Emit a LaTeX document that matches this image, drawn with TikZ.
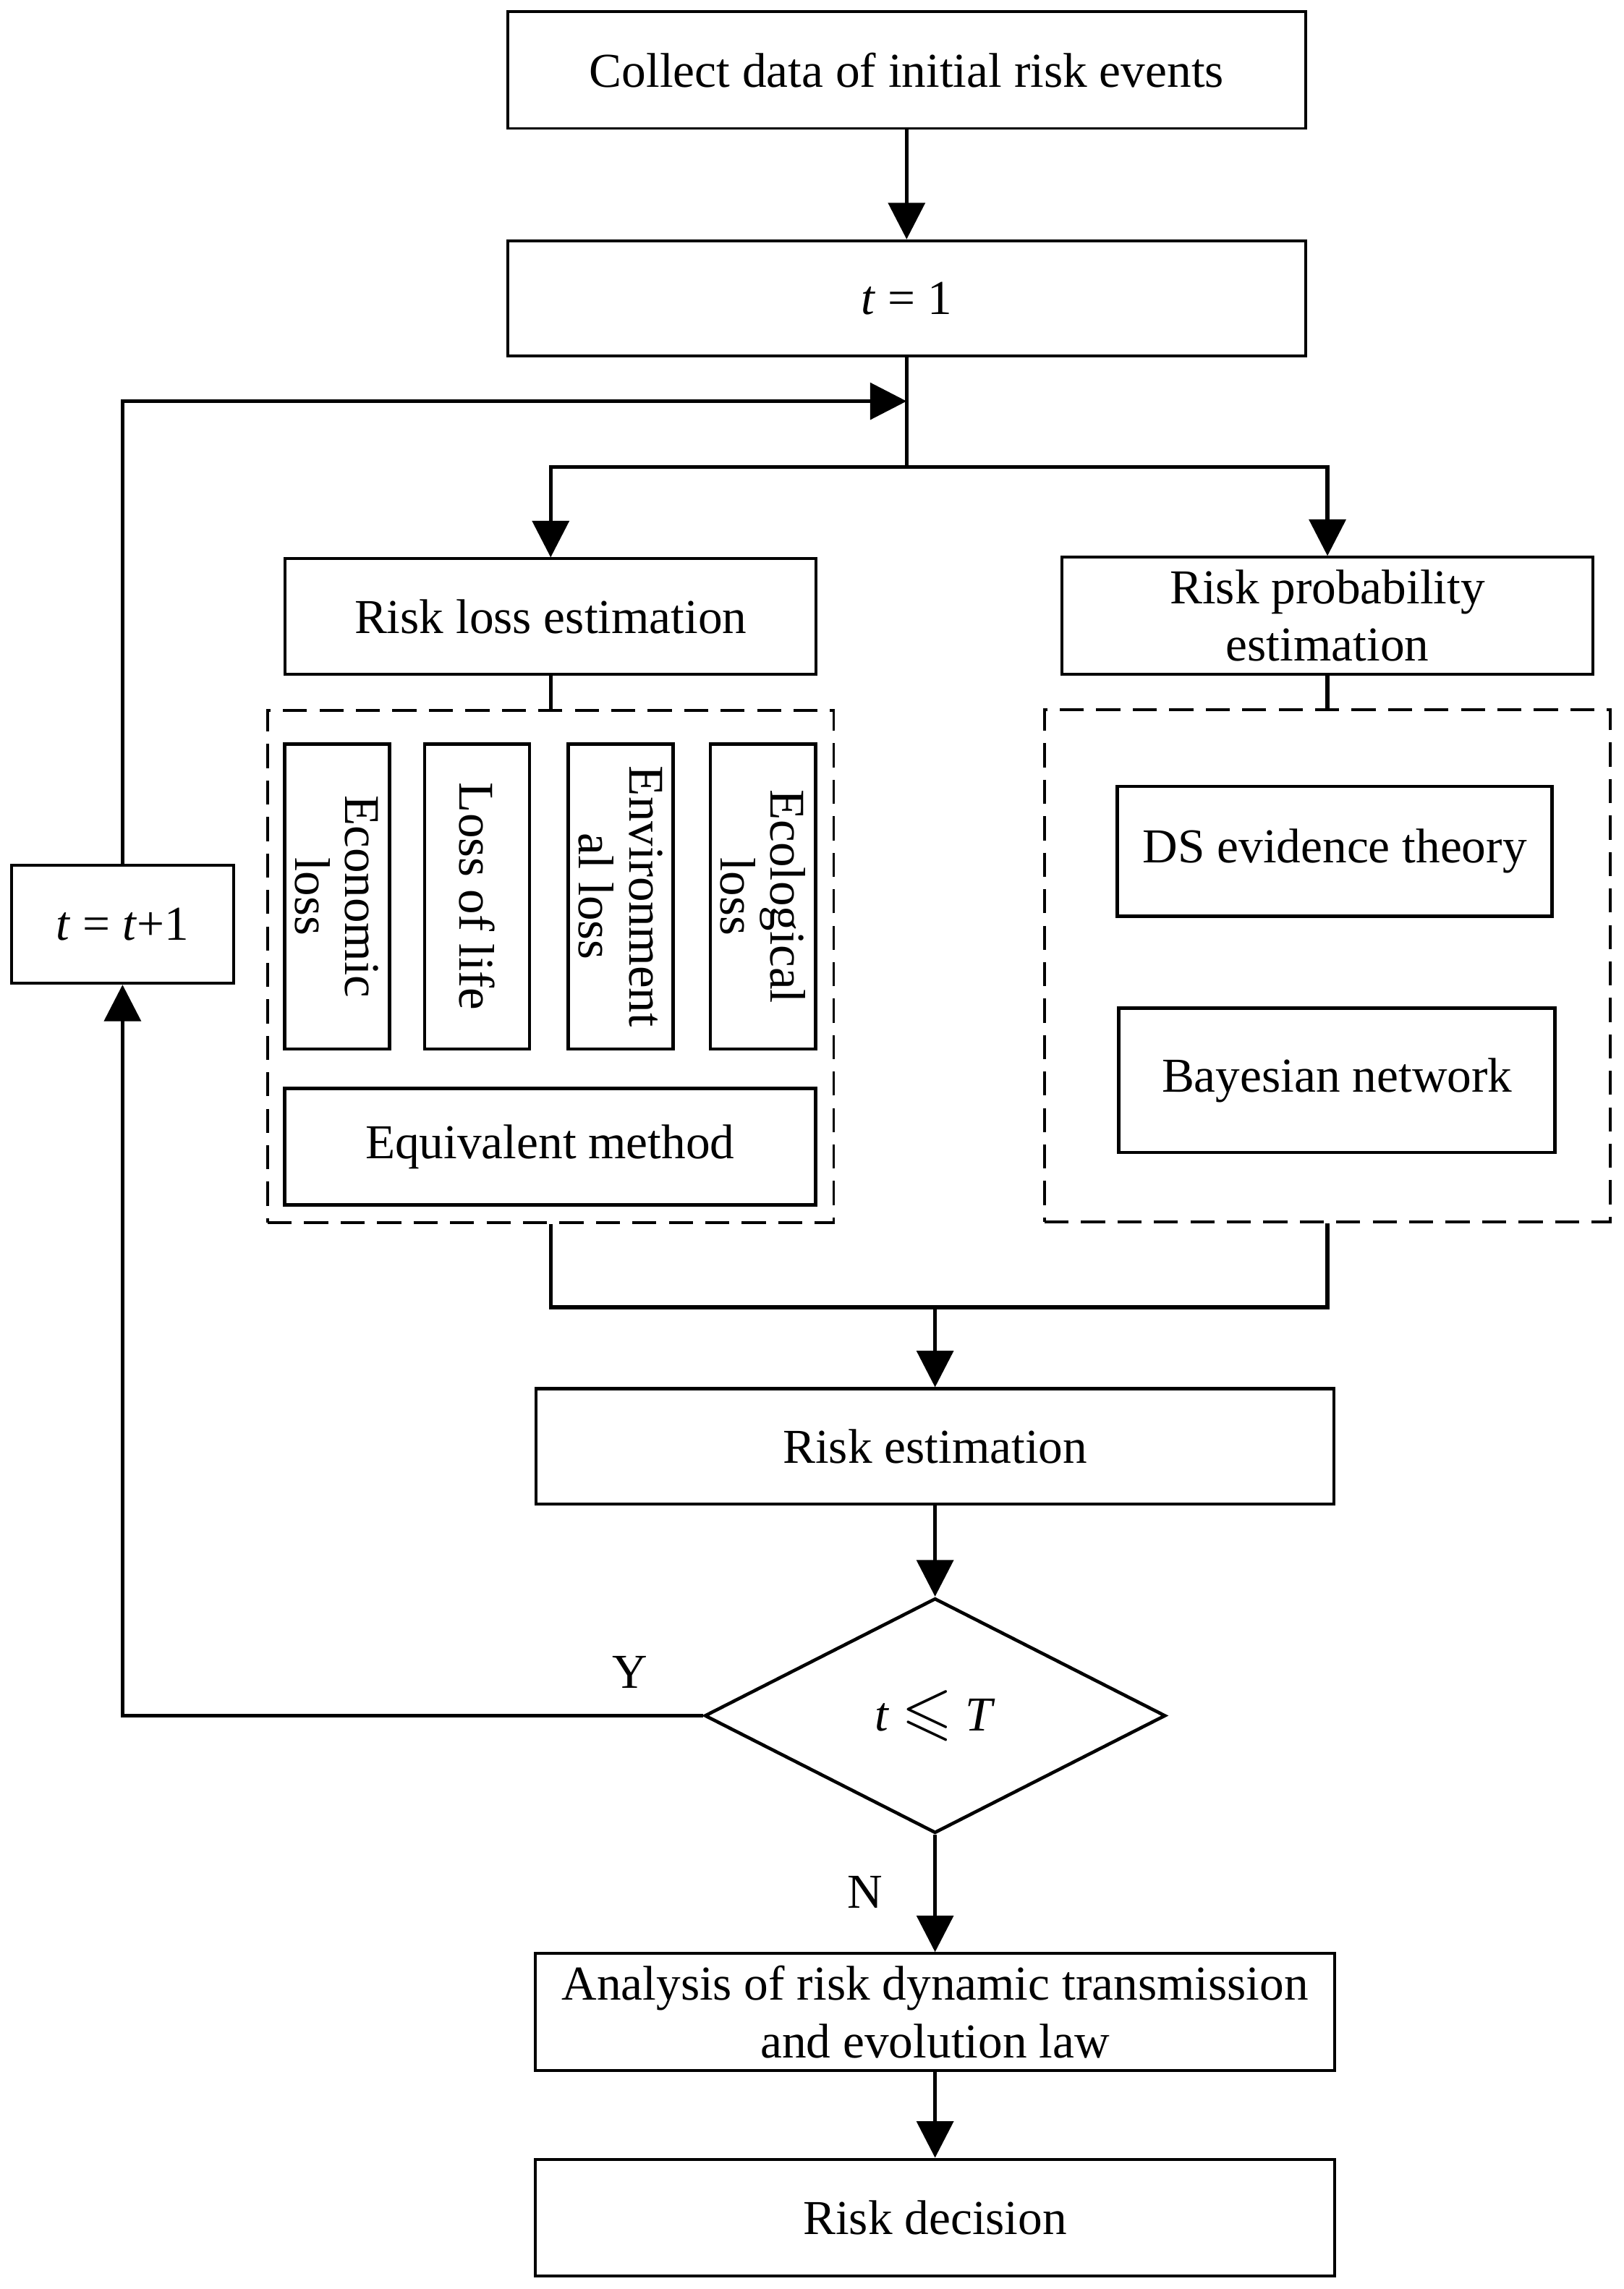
\documentclass[tikz,border=0pt]{standalone}
\usepackage{amssymb}
\usepackage{graphicx}
\usepackage{fontspec}
\setmainfont{Liberation Serif}
\usetikzlibrary{shapes.geometric,arrows.meta}

\begin{document}
\begin{tikzpicture}[x=0.2mm,y=-0.2mm,
      every node/.style={font=\fontsize{19}{22.5}\selectfont},
      procbox/.style={draw,rectangle,line width=1.1pt,minimum height=16mm,inner sep=2pt,align=center},
      lossitem/.style={draw,rectangle,line width=1.3pt,rotate=-90,minimum width=41.8mm,minimum height=14.4mm,
        inner sep=0pt,align=center,font=\fontsize{19.5}{19.5}\selectfont},
      groupbox/.style={draw,rectangle,line width=1.1pt,dash pattern=on 3.3mm off 1.7mm,
        minimum width=77.6mm,minimum height=70.2mm},
      flow/.style={line width=1.5pt,-{Triangle[length=5mm,width=5mm]}},
      link/.style={line width=1.5pt}]
    \path[use as bounding box,fill=white] (0,0) rectangle (1113,1569);

    \node[procbox,minimum width=109.4mm] (collect) at (621.5,48) {Collect data of initial risk events};
    \node[procbox,minimum width=109.4mm,minimum height=15.8mm] (tone) at (621.5,204.5) {\textit{t} = 1};
    \node[procbox,minimum width=72.8mm,minimum height=15.8mm] (lossest) at (377.5,422.5) {Risk loss estimation};
    \node[procbox,minimum width=72.8mm] (probest) at (910,422) {Risk probability\\estimation};

    % estimation methods
    \node[groupbox] (lossgrp) at (377.5,662.5) {};
    \node[groupbox] (probgrp) at (910,662) {};
    \node[lossitem] (eco) at (231,614.5) {Economic\\loss};
    \node[lossitem] (life) at (327,614.5) {Loss of life};
    \node[lossitem] (env) at (425.5,614.5) {Environment\\al loss};
    \node[lossitem] (ecol) at (523,614.5) {Ecological\\loss};
    \node[procbox,line width=1.3pt,minimum width=72.8mm] (equiv) at (377,786) {Equivalent method};
    \node[procbox,line width=1.3pt,minimum width=59.6mm,minimum height=17.8mm] (ds) at (915,583.5) {DS evidence theory};
    \node[procbox,line width=1.3pt,minimum width=59.8mm,minimum height=19.8mm] (bayes) at (916.5,740.5) {Bayesian network};

    \node[procbox,line width=1.3pt,minimum width=109.4mm,minimum height=15.8mm] (riskest) at (641,991.5) {Risk estimation};
    \node[draw,diamond,aspect=2,line width=1.3pt,minimum width=63.2mm,minimum height=32.2mm,inner sep=0pt]
      (check) at (641,1176) {\textit{t} \raisebox{-0.5pt}{\scalebox{1.35}{$\leqslant$}} \textit{T}};
    \node[procbox,minimum width=30.4mm,minimum height=16.2mm] (tinc) at (84,633.5) {\textit{t} = \textit{t}+1};
    \node[procbox,minimum width=109.6mm] (analysis) at (641,1379) {Analysis of risk dynamic transmission\\and evolution law};
    \node[procbox,minimum width=109.6mm] (decision) at (641,1520) {Risk decision};
    \node (yes) at (432,1146) {Y};
    \node (no) at (593,1297) {N};

    % connectors
    \coordinate (loopin) at (621.5,275);
    \coordinate (split) at (621.5,320);
    \coordinate (merge) at (641,896);
    \draw[flow] (collect) -- (tone);
    \draw[link] (tone) -- (split);
    \draw[flow] (split) -| (lossest);
    \draw[flow] (split) -| (probest);
    \draw[flow] (tinc) |- (loopin);
    \draw[link] (lossest) -- (lossgrp);
    \draw[link] (probest) -- (probgrp);
    \draw[link] (lossgrp) |- (merge) -| (probgrp);
    \draw[flow] (merge) -- (riskest);
    \draw[flow] (riskest) -- (check);
    \draw[flow] (check) -| (tinc);
    \draw[flow] (check) -- (analysis);
    \draw[flow] (analysis) -- (decision);
\end{tikzpicture}
\end{document}
